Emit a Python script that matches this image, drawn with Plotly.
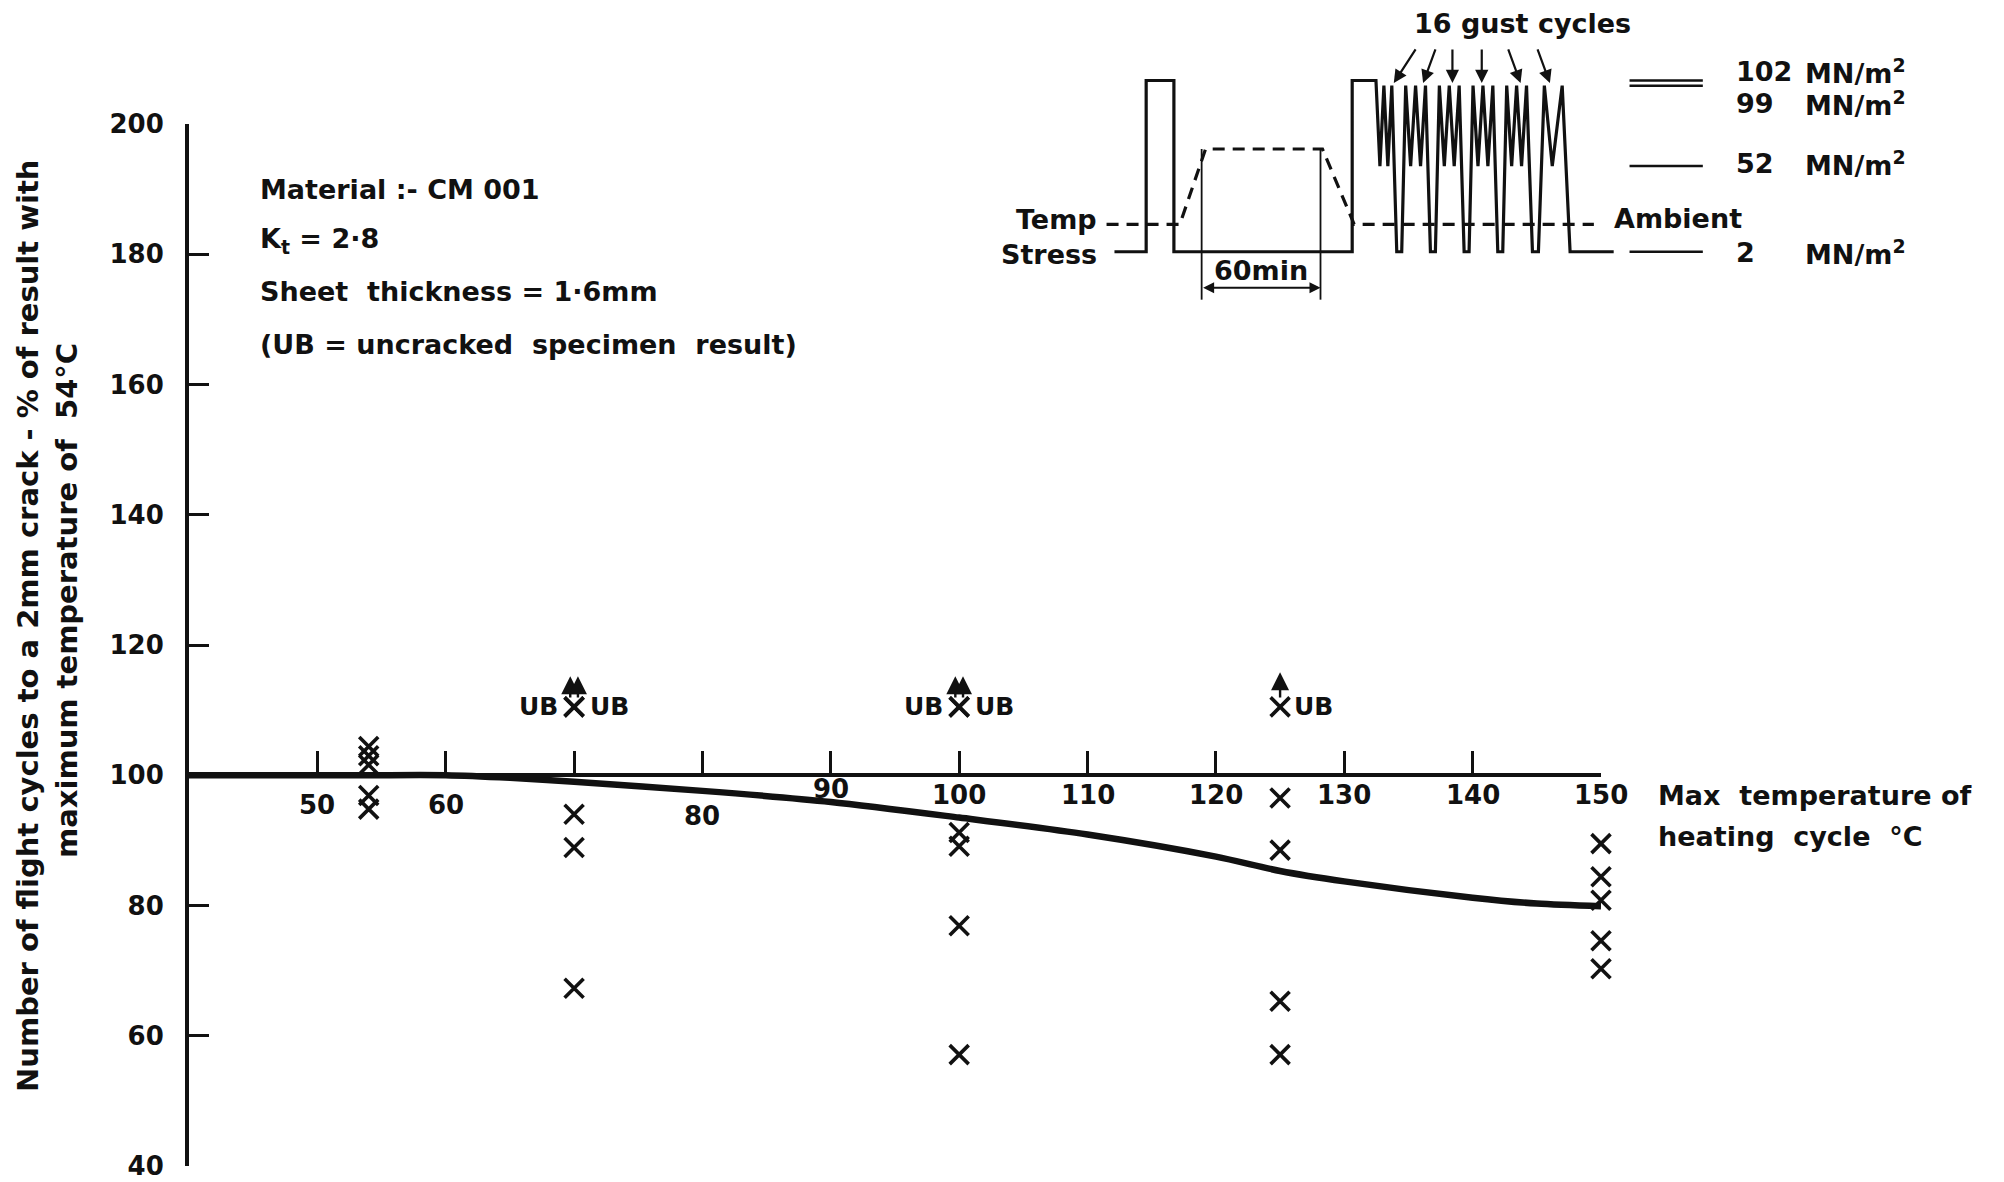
import plotly.graph_objects as go

# ---------------- data (main chart) ----------------
curve_temp = [40, 50, 54, 60, 65, 70, 80, 90, 100, 110, 120, 125, 130, 140, 145, 150]
curve_pct = [100, 100, 100, 100, 99.6, 99.0, 97.6, 95.9, 93.5, 90.9, 87.5, 85.3, 83.7, 81.2, 80.3, 79.9]

test_temp = [54, 54, 54, 54, 54, 70, 70, 70, 100, 100, 100, 100, 125, 125, 125, 125, 150, 150, 150, 150, 150]
test_pct = [104.4, 103.0, 101.6, 96.9, 94.8, 94.0, 88.9, 67.3, 91.2, 89.1, 76.9, 57.1,
            96.5, 88.5, 65.3, 57.1, 89.5, 84.4, 80.8, 74.6, 70.3]

ub_temp = [70, 70, 100, 100, 125]
ub_pct = [110.5, 110.5, 110.5, 110.5, 110.5]
ub_arrow_temp = [69.7, 70.3, 99.7, 100.3, 125]
ub_arrow_tip = [115.2, 115.2, 115.2, 115.2, 115.8]
ub_label_left = [70, 100]
ub_label_right = [70, 100, 125]

x_tick_vals = [50, 60, 70, 80, 90, 100, 110, 120, 130, 140, 150]
x_tick_text = ["50", "60", "", "80", "90", "100", "110", "120", "130", "140", "150"]
y_tick_vals = [40, 60, 80, 100, 120, 140, 160, 180, 200]

info_lines = ["Material :- CM 001", "K<sub>t</sub> = 2·8", "Sheet  thickness = 1·6mm",
              "(UB = uncracked  specimen  result)"]
info_y = [190.0, 182.1, 174.3, 166.2]

# ---------------- data (inset loading schematic) ----------------
stress_t = [0, 16, 16, 30, 30, 120, 120, 132,
            134, 136, 138, 140, 142.5, 145,
            147, 149.5, 152, 154.5, 157, 159.5, 162,
            164, 166.5, 169, 171.5, 174, 176.5, 179,
            181, 183.5, 186, 188.5, 191, 193.5, 196,
            198, 200.5, 203, 205.5, 208, 211, 214,
            217, 221, 226, 230, 252]
stress_s = [2, 2, 102, 102, 2, 2, 102, 102,
            52, 99, 52, 99, 2, 2,
            99, 52, 99, 52, 99, 2, 2,
            99, 52, 99, 52, 99, 2, 2,
            99, 52, 99, 52, 99, 2, 2,
            99, 52, 99, 52, 99, 2, 2,
            99, 52, 99, 2, 2]
temp_t = [-4, 33, 46, 105, 121, 242]
temp_level = [18, 18, 62, 62, 18, 18]
stress_levels = [102, 99, 52, 2]
stress_level_labels = ["102", "99", "52", "2"]
stress_label_y = [107.2, 88.6, 53.5, 1.3]
gust_arrow_tail_t = [152.5, 162.3, 170.6, 185.4, 198.5, 213.3]
gust_arrow_head_t = [141.0, 155.8, 170.6, 185.4, 205.0, 219.8]

# ---------------- layout geometry ----------------
W, H = 2004, 1182
X0, X1, YT, YB = 189, 1601, 124, 1166
FONT = "DejaVu Sans"
BLACK = "#111111"

xd = [X0 / W, X1 / W]
yd = [1 - YB / H, 1 - YT / H]
xpos = yd[0] + (100 - 40) / (200 - 40) * (yd[1] - yd[0])


def bfont(size):
    return dict(family=FONT, size=size, color=BLACK, weight="bold")


fig = go.Figure()

# main curve
fig.add_trace(go.Scatter(x=curve_temp, y=curve_pct, mode="lines",
                         line=dict(color=BLACK, width=6.5, shape="spline", smoothing=0.8),
                         xaxis="x", yaxis="y", showlegend=False, hoverinfo="skip", cliponaxis=False))
# test results
fig.add_trace(go.Scatter(x=test_temp, y=test_pct, mode="markers", cliponaxis=False,
                         marker=dict(symbol="x-thin", size=19, line=dict(color=BLACK, width=3.6)),
                         xaxis="x", yaxis="y", showlegend=False))
fig.add_trace(go.Scatter(x=ub_temp, y=ub_pct, mode="markers", cliponaxis=False,
                         marker=dict(symbol="x-thin", size=19, line=dict(color=BLACK, width=3.6)),
                         xaxis="x", yaxis="y", showlegend=False))

# inset traces
fig.add_trace(go.Scatter(x=stress_t, y=stress_s, mode="lines",
                         line=dict(color=BLACK, width=3.2),
                         xaxis="x2", yaxis="y2", showlegend=False, hoverinfo="skip"))
fig.add_trace(go.Scatter(x=temp_t, y=temp_level, mode="lines",
                         line=dict(color=BLACK, width=3.2, dash="12px,8px"),
                         xaxis="x2", yaxis="y2", showlegend=False, hoverinfo="skip"))
lvl_x, lvl_y = [], []
for s in stress_levels:
    lvl_x += [260, 297, None]
    lvl_y += [s, s, None]
fig.add_trace(go.Scatter(x=lvl_x, y=lvl_y, mode="lines", line=dict(color=BLACK, width=2.5),
                         xaxis="x2", yaxis="y2", showlegend=False, hoverinfo="skip"))
# 60 min bracket verticals
fig.add_trace(go.Scatter(x=[44, 44, None, 104, 104], y=[62, -26, None, 62, -26], mode="lines",
                         line=dict(color=BLACK, width=1.8),
                         xaxis="x2", yaxis="y2", showlegend=False, hoverinfo="skip"))

ann = []
# x tick labels with individual drop (style)
x_label_drop = [30, 30, 0, 41, 14, 20, 20, 20, 20, 20, 20]
for v, t, d in zip(x_tick_vals, x_tick_text, x_label_drop):
    if t:
        ann.append(dict(x=v, y=100, xref="x", yref="y", text=t, showarrow=False,
                        yshift=-d, yanchor="middle", xanchor="center", font=bfont(26)))
# x axis title (paper coordinates, outside the axis range)
ann.append(dict(x=1656 / W, y=1 - 795 / H, xref="paper", yref="paper", text="Max  temperature of",
                showarrow=False, xanchor="left", yanchor="middle", font=bfont(27)))
ann.append(dict(x=1656 / W, y=1 - 836 / H, xref="paper", yref="paper", text="heating  cycle  °C",
                showarrow=False, xanchor="left", yanchor="middle", font=bfont(27)))
# y axis title
ann.append(dict(x=28 / W, y=1 - 626 / H, xref="paper", yref="paper", textangle=-90,
                text="Number of flight cycles to a 2mm crack - % of result with", showarrow=False,
                xanchor="center", yanchor="middle", font=bfont(29)))
ann.append(dict(x=67 / W, y=1 - 601 / H, xref="paper", yref="paper", textangle=-90,
                text="maximum temperature of  54°C", showarrow=False,
                xanchor="center", yanchor="middle", font=bfont(29)))
# info block
for txt, yy in zip(info_lines, info_y):
    ann.append(dict(x=45.4, y=yy, xref="x", yref="y", text=txt, showarrow=False,
                    xanchor="left", yanchor="middle", font=bfont(27)))
# UB labels & arrows
for xv in ub_label_left:
    ann.append(dict(x=xv, y=110.5, xref="x", yref="y", text="UB", showarrow=False,
                    xanchor="right", yanchor="middle", xshift=-14, font=bfont(25)))
for xv in ub_label_right:
    ann.append(dict(x=xv, y=110.5, xref="x", yref="y", text="UB", showarrow=False,
                    xanchor="left", yanchor="middle", xshift=14 if xv != 125 else 12,
                    font=bfont(25)))
for xv, tip, base in zip(ub_arrow_temp, ub_arrow_tip, ub_pct):
    ann.append(dict(x=xv, y=tip, ax=xv, ay=base + 1.2, xref="x", yref="y", axref="x", ayref="y",
                    text="", showarrow=True, arrowhead=2, arrowsize=1.5, arrowwidth=2.4,
                    arrowcolor=BLACK, standoff=0, startstandoff=0))

# inset text
ifont = bfont(27)
ann.append(dict(x=206, y=135, xref="x2", yref="y2", text="16 gust cycles", showarrow=False,
                xanchor="center", yanchor="middle", font=ifont))
ann.append(dict(x=-8, y=20.7, xref="x2", yref="y2", text="Temp", showarrow=False,
                xanchor="right", yanchor="middle", font=ifont))
ann.append(dict(x=-8, y=0.5, xref="x2", yref="y2", text="Stress", showarrow=False,
                xanchor="right", yanchor="middle", font=ifont))
ann.append(dict(x=251, y=21.4, xref="x2", yref="y2", text="Ambient", showarrow=False,
                xanchor="left", yanchor="middle", font=ifont))
ann.append(dict(x=74, y=-9, xref="x2", yref="y2", text="60min", showarrow=False,
                xanchor="center", yanchor="middle", font=ifont))
ann.append(dict(x=104, y=-19, ax=44, ay=-19, xref="x2", yref="y2", axref="x2", ayref="y2",
                text="", showarrow=True, arrowhead=2, arrowside="end+start", arrowsize=1.1,
                arrowwidth=2, arrowcolor=BLACK, standoff=0, startstandoff=0))
for lab, yy in zip(stress_level_labels, stress_label_y):
    ann.append(dict(x=312.9, y=yy, xref="x2", yref="y2", text=lab, showarrow=False,
                    xanchor="left", yanchor="middle", font=ifont))
    ann.append(dict(x=347.7, y=yy, xref="x2", yref="y2", text="MN/m<sup>2</sup>", showarrow=False,
                    xanchor="left", yanchor="middle", font=ifont))
for tail, head in zip(gust_arrow_tail_t, gust_arrow_head_t):
    ann.append(dict(x=head, y=100.5, ax=tail, ay=121, xref="x2", yref="y2", axref="x2", ayref="y2",
                    text="", showarrow=True, arrowhead=2, arrowsize=1.2, arrowwidth=2.2,
                    arrowcolor=BLACK, standoff=0, startstandoff=0))

fig.update_layout(
    width=W, height=H,
    margin=dict(l=0, r=0, t=0, b=0, pad=0, autoexpand=False),
    paper_bgcolor="white", plot_bgcolor="rgba(0,0,0,0)",
    showlegend=False,
    xaxis=dict(domain=xd, range=[40, 150], anchor="free", position=xpos,
               showline=True, linecolor=BLACK, linewidth=3.5, showgrid=False, zeroline=False,
               ticks="inside", ticklen=23, tickwidth=2.5, tickcolor=BLACK,
               tickvals=x_tick_vals, showticklabels=False, fixedrange=True),
    yaxis=dict(domain=yd, range=[40, 200], anchor="x",
               showline=True, linecolor=BLACK, linewidth=4, showgrid=False, zeroline=False,
               ticks="inside", ticklen=20, tickwidth=2.5, tickcolor=BLACK,
               tickvals=y_tick_vals, ticklabelstandoff=16,
               tickfont=bfont(26), fixedrange=True),
    xaxis2=dict(domain=[0, 1], range=[-562.58, 449.03], anchor="y2", visible=False, fixedrange=True),
    yaxis2=dict(domain=[0, 1], range=[-541.28, 149.01], anchor="x2", visible=False, fixedrange=True),
    annotations=ann,
)

fig.write_html("out.html")
